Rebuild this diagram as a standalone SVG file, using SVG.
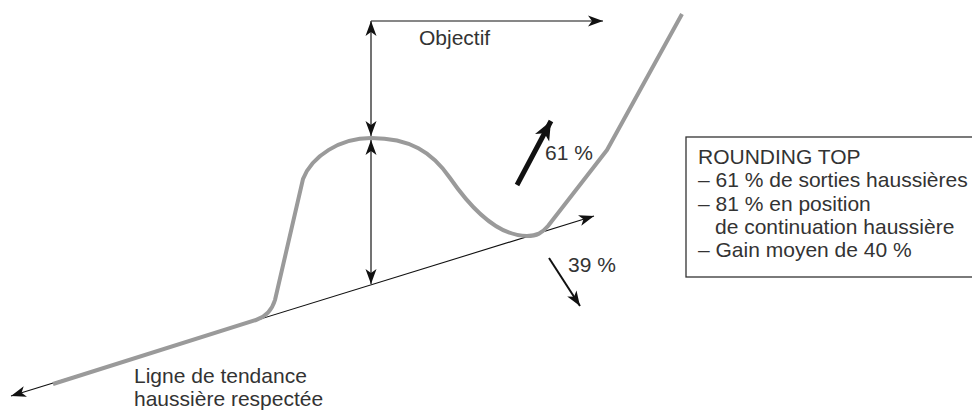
<svg xmlns="http://www.w3.org/2000/svg" width="972" height="413" viewBox="0 0 972 413">
<style>
.txt{font-family:"Liberation Sans",Arial,sans-serif;fill:#333;font-size:21px}
.box{font-size:21px}
.price{fill:none;stroke:#9a9a9a;stroke-width:4;stroke-linecap:butt;stroke-linejoin:round}
.thin{fill:none;stroke:#111;stroke-width:1.1}
.dim{fill:none;stroke:#444;stroke-width:1.5}
</style>
<defs>
<marker id="ah" viewBox="-15 -6 16 12" refX="0" refY="0" markerWidth="16" markerHeight="12" markerUnits="userSpaceOnUse" orient="auto-start-reverse">
<path d="M0,0 L-15,-5.5 L-11,0 L-15,5.5 Z" fill="#111"/>
</marker>
<marker id="ahBig" viewBox="-19 -9 20 18" refX="0" refY="0" markerWidth="20" markerHeight="18" markerUnits="userSpaceOnUse" orient="auto">
<path d="M0,0 L-19,-8 L-14,0 L-19,8 Z" fill="#111"/>
</marker>
</defs>
<g id="connectors">
<line id="trend" class="thin" x1="11" y1="396" x2="594" y2="216" marker-start="url(#ah)" marker-end="url(#ah)"/>
<line id="objectif-h" class="thin" x1="371" y1="21" x2="603" y2="21" stroke-width="1.3" marker-end="url(#ah)"/>
<line id="objectif-v" class="dim" x1="371" y1="21" x2="371" y2="136" marker-start="url(#ah)" marker-end="url(#ah)"/>
<line id="height-v" class="dim" x1="371" y1="140" x2="371" y2="284" marker-start="url(#ah)" marker-end="url(#ah)"/>
<line id="up61" x1="517" y1="185" x2="551" y2="121" stroke="#111" stroke-width="5" marker-end="url(#ahBig)"/>
<line id="down39" x1="549" y1="258" x2="580" y2="306" stroke="#111" stroke-width="2" marker-end="url(#ah)"/>
</g>
<g id="price">
<path class="price" d="M53,384 L256,320 C265,317 272,310 275,300 L303,179 C312,156 340,138 371,138 C410,138 432,152 450,178 C468,204 495,236 527,236 C537,236 542,233 548,226 L607,150 L682,14"/>
</g>
<g id="label-objectif"><text class="txt" x="419" y="45">Objectif</text></g>
<g id="label-61"><text class="txt" x="545" y="160">61 %</text></g>
<g id="label-39"><text class="txt" x="568" y="272">39 %</text></g>
<g id="label-trend">
<text class="txt" x="134" y="383">Ligne de tendance</text>
<text class="txt" x="134" y="406">haussière respectée</text>
</g>
<g id="infobox">
<rect x="686" y="137" width="300" height="140" fill="#fff" stroke="#333" stroke-width="1.3"/>
<text class="txt box" x="698" y="164">ROUNDING TOP</text>
<text class="txt box" x="698" y="187">– 61 % de sorties haussières</text>
<text class="txt box" x="698" y="211">– 81 % en position</text>
<text class="txt box" x="715" y="234">de continuation haussière</text>
<text class="txt box" x="698" y="257">– Gain moyen de 40 %</text>
</g>
</svg>
